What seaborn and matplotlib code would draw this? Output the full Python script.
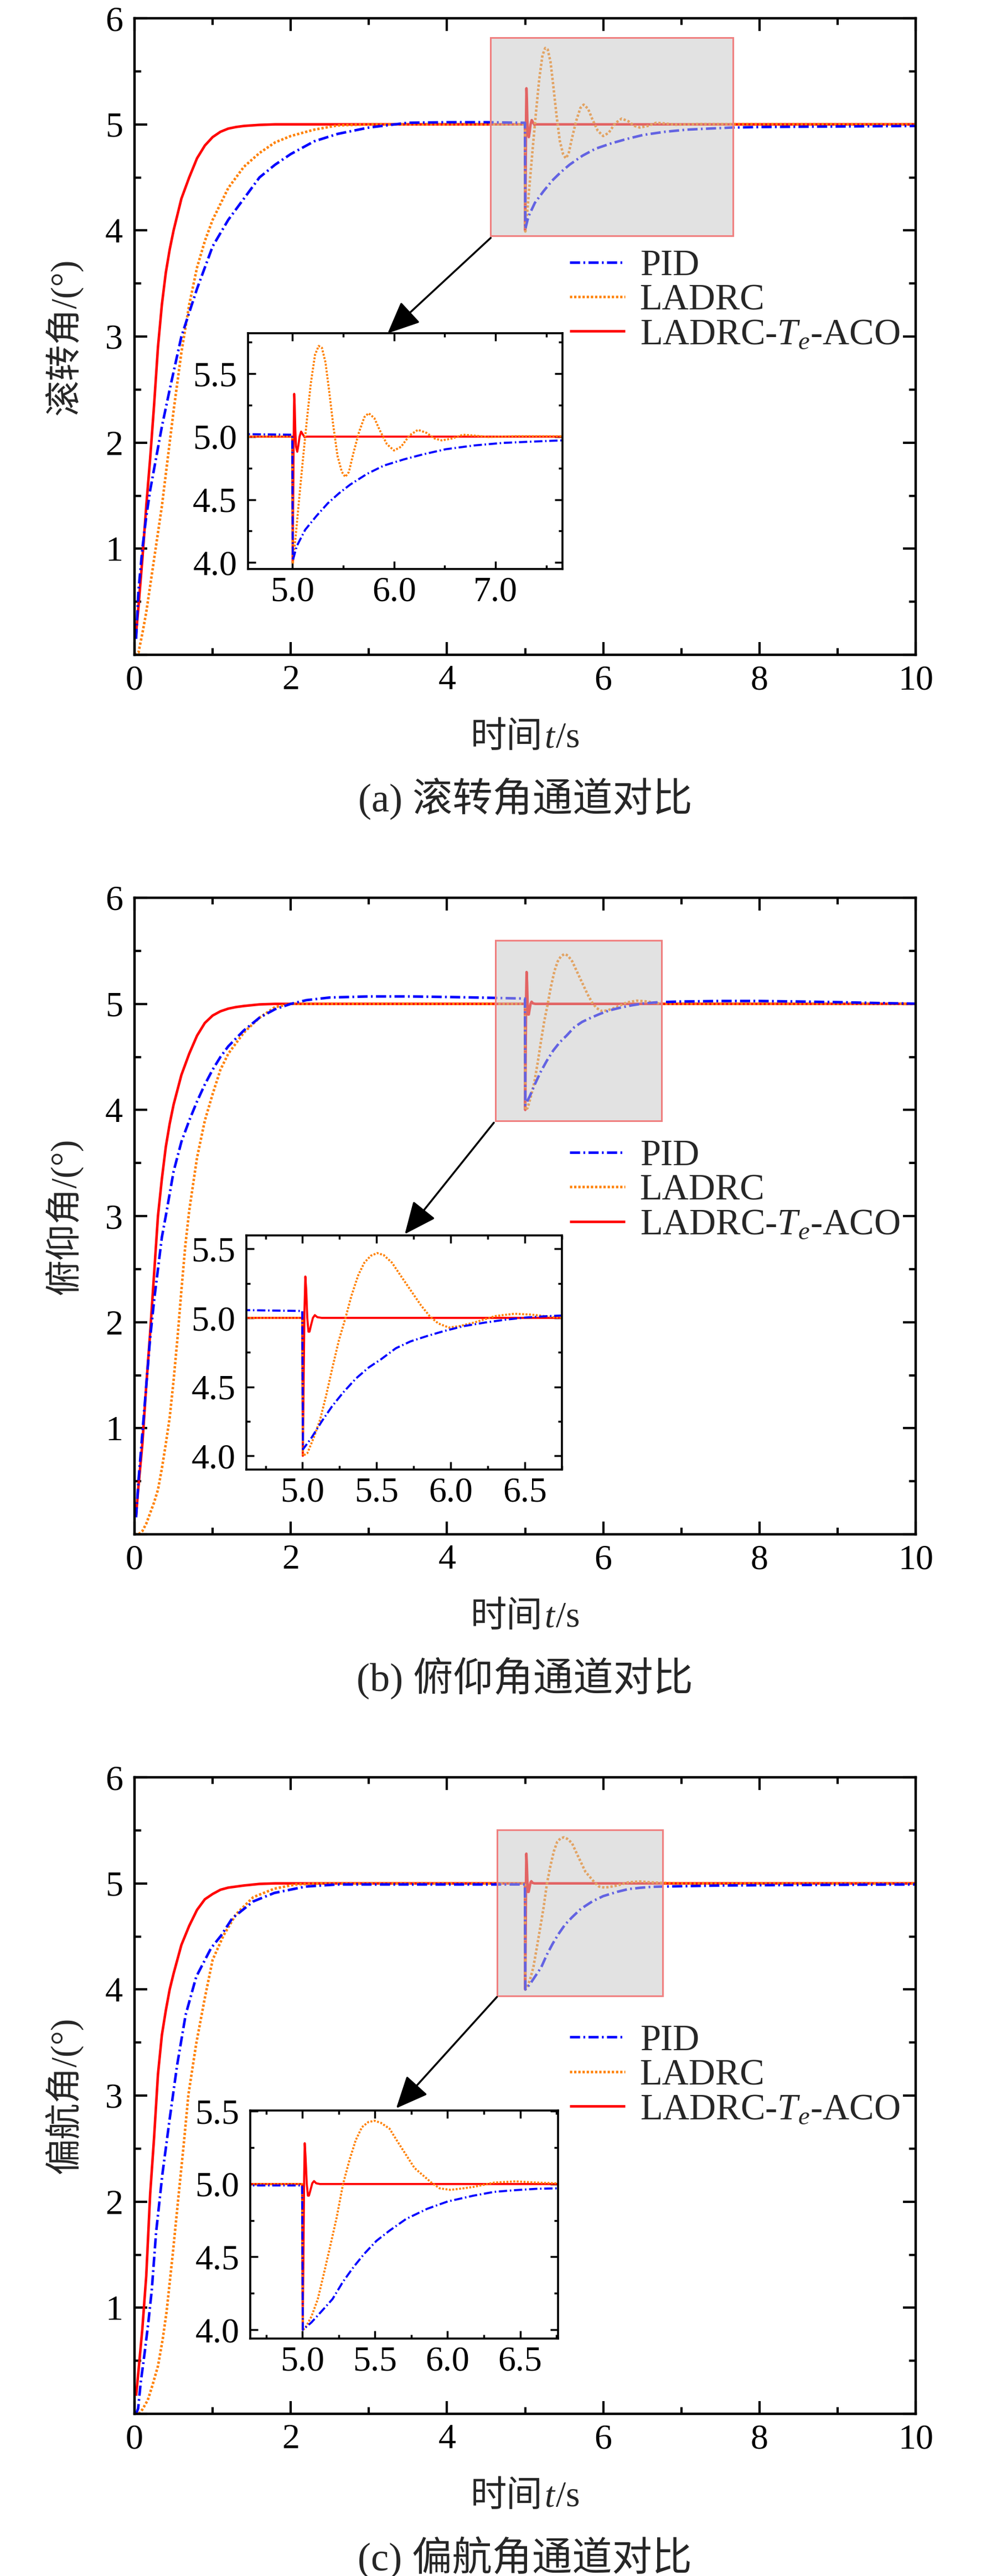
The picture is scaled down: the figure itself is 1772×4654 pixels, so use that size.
import matplotlib
matplotlib.use("Agg")
import matplotlib.pyplot as plt
import seaborn as sns
import pandas as pd
from matplotlib.patches import Rectangle
from matplotlib.ticker import MultipleLocator, FormatStrFormatter
from matplotlib.offsetbox import TextArea, HPacker, AnnotationBbox

sns.set_theme(style="ticks")
plt.rcParams["font.family"] = ["Liberation Serif", "Noto Sans CJK SC"]
plt.rcParams["mathtext.fontset"] = "custom"
plt.rcParams["mathtext.rm"] = "Liberation Serif"
plt.rcParams["mathtext.it"] = "Liberation Serif:italic"
plt.rcParams["axes.unicode_minus"] = False

# ---------------- data ----------------
labels = ["PID", "LADRC", "LADRC-$T_e$-ACO"]
ylabels = ["滚转角/(°)", "俯仰角/(°)", "偏航角/(°)"]
captions = ["(a) 滚转角通道对比", "(b) 俯仰角通道对比", "(c) 偏航角通道对比"]
xlabel_parts = ["时间", "t", "/s"]

# (a) roll
roll_t_pid = [0.02, 0.05, 0.1, 0.15, 0.2, 0.25, 0.3, 0.35, 0.45, 0.6, 0.8, 1.0, 1.2, 1.4, 1.6, 1.8, 2.0, 2.3, 2.6, 3.0,
              3.5, 4.0, 4.5, 4.998, 5.003, 5.042, 5.125, 5.236, 5.347, 5.458, 5.57, 5.736, 5.9, 6.1, 6.29, 6.51, 6.79,
              7.07, 7.35, 7.65, 8.0, 9.0, 10.0]
roll_y_pid = [0.15, 0.6, 1.0, 1.3, 1.55, 1.75, 1.95, 2.15, 2.5, 3.0, 3.45, 3.85, 4.1, 4.3, 4.5, 4.62, 4.72, 4.84, 4.91, 4.97,
              5.015, 5.02, 5.02, 5.015, 4.015, 4.13, 4.26, 4.37, 4.47, 4.55, 4.62, 4.705, 4.77, 4.82, 4.86, 4.90, 4.93,
              4.95, 4.96, 4.97, 4.975, 4.98, 4.985]
roll_t_ladrc = [0.0, 0.05, 0.1, 0.15, 0.2, 0.25, 0.3, 0.35, 0.4, 0.45, 0.5, 0.6, 0.7, 0.8, 0.9, 1.0, 1.2, 1.4, 1.6, 1.8,
                2.0, 2.3, 2.6, 3.0, 4.998, 5.003, 5.028, 5.064, 5.097, 5.139, 5.18, 5.222, 5.258, 5.29, 5.325, 5.36,
                5.403, 5.444, 5.486, 5.52, 5.556, 5.597, 5.653, 5.708, 5.75, 5.806, 5.86, 5.93, 6.0, 6.07, 6.153, 6.236,
                6.32, 6.40, 6.47, 6.57, 6.68, 6.79, 6.93, 7.2, 10.0]
roll_y_ladrc = [0.0, 0.02, 0.2, 0.4, 0.65, 0.9, 1.15, 1.4, 1.7, 2.0, 2.3, 2.85, 3.3, 3.65, 3.9, 4.1, 4.4, 4.6, 4.73, 4.83,
                4.89, 4.95, 4.99, 5.0, 5.0, 3.99, 4.18, 4.49, 4.77, 5.11, 5.42, 5.65, 5.72, 5.705, 5.59, 5.37,
                5.08, 4.845, 4.72, 4.68, 4.72, 4.86, 5.03, 5.155, 5.186, 5.147, 5.05, 4.94, 4.89, 4.92, 5.01, 5.054,
                5.03, 4.985, 4.97, 4.985, 5.015, 5.008, 4.997, 5.003, 5.0]
roll_t_aco = [0.02, 0.05, 0.1, 0.15, 0.2, 0.25, 0.3, 0.35, 0.4, 0.45, 0.5, 0.6, 0.7, 0.8, 0.9, 1.0, 1.1, 1.2, 1.3, 1.4,
              1.6, 1.8, 2.0, 4.998, 5.002, 5.008, 5.013, 5.017, 5.022, 5.028, 5.035, 5.047, 5.058, 5.07, 5.085, 5.1,
              5.12, 5.14, 10.0]
roll_y_aco = [0.2, 0.45, 0.9, 1.4, 1.85, 2.35, 2.9, 3.3, 3.6, 3.82, 4.0, 4.3, 4.5, 4.68, 4.8, 4.88, 4.93, 4.96, 4.975, 4.985,
              4.995, 5.0, 5.0, 5.0, 4.0, 4.6, 5.1, 5.34, 5.25, 5.05, 4.92, 4.88, 4.93, 5.0, 5.04, 5.02,
              4.995, 5.0, 5.0]

# (b) pitch
pitch_t_pid = [0.02, 0.05, 0.1, 0.15, 0.2, 0.25, 0.3, 0.35, 0.4, 0.5, 0.6, 0.7, 0.8, 0.9, 1.0, 1.1, 1.2, 1.4, 1.6, 1.8,
               2.0, 2.2, 2.5, 3.0, 3.5, 4.0, 4.5, 4.998, 5.003, 5.06, 5.13, 5.2, 5.275, 5.36, 5.446, 5.53, 5.63, 5.73,
               5.845, 5.96, 6.087, 6.23, 6.37, 6.51, 6.657, 6.75, 7.0, 7.5, 8.0, 8.5, 9.0, 9.5, 10.0]
pitch_y_pid = [0.16, 0.5, 0.95, 1.4, 1.85, 2.2, 2.5, 2.8, 3.0, 3.42, 3.7, 3.9, 4.08, 4.24, 4.38, 4.5, 4.6, 4.75, 4.87, 4.95,
               5.0, 5.035, 5.06, 5.07, 5.07, 5.065, 5.058, 5.05, 4.047, 4.13, 4.25, 4.36, 4.46, 4.56, 4.64, 4.70, 4.78,
               4.83, 4.87, 4.906, 4.94, 4.966, 4.987, 5.003, 5.013, 5.017, 5.022, 5.027, 5.027, 5.022, 5.016, 5.008,
               5.002]
pitch_t_ladrc = [0.0, 0.05, 0.1, 0.15, 0.2, 0.25, 0.3, 0.35, 0.4, 0.45, 0.5, 0.55, 0.6, 0.65, 0.7, 0.8, 0.9, 1.0, 1.1,
                 1.2, 1.4, 1.6, 1.8, 2.0, 4.998, 5.003, 5.033, 5.075, 5.118, 5.16, 5.204, 5.246, 5.29, 5.33, 5.376,
                 5.417, 5.46, 5.504, 5.547, 5.604, 5.66, 5.73, 5.80, 5.86, 5.916, 5.987, 6.058, 6.158, 6.30, 6.43,
                 6.54, 6.657, 6.75, 7.0, 10.0]
pitch_y_ladrc = [0.0, 0.0, 0.03, 0.1, 0.2, 0.3, 0.42, 0.62, 0.85, 1.1, 1.45, 1.85, 2.3, 2.72, 3.05, 3.55, 3.9, 4.15, 4.38,
                 4.53, 4.73, 4.87, 4.97, 5.0, 5.0, 4.0, 4.02, 4.13, 4.26, 4.44, 4.65, 4.84, 5.0, 5.16, 5.31,
                 5.40, 5.45, 5.47, 5.456, 5.40, 5.31, 5.20, 5.09, 5.01, 4.96, 4.93, 4.94, 4.966, 5.013, 5.03,
                 5.024, 5.01, 5.0, 5.0, 5.0]
pitch_t_aco = [0.02, 0.05, 0.1, 0.15, 0.2, 0.25, 0.3, 0.35, 0.4, 0.45, 0.5, 0.6, 0.7, 0.8, 0.9, 1.0, 1.1, 1.2, 1.3, 1.4,
               1.6, 1.8, 4.998, 5.002, 5.008, 5.013, 5.019, 5.025, 5.032, 5.04, 5.047, 5.058, 5.07, 5.083, 5.1, 5.13,
               10.0]
pitch_y_aco = [0.18, 0.45, 0.85, 1.4, 1.9, 2.45, 3.0, 3.35, 3.65, 3.87, 4.05, 4.33, 4.53, 4.7, 4.82, 4.89, 4.93, 4.955,
               4.97, 4.98, 4.995, 5.0, 5.0, 4.0, 4.6, 5.05, 5.30, 5.2, 5.0, 4.9, 4.90, 4.95, 5.0, 5.02, 5.005, 5.0,
               5.0]

# (c) yaw
yaw_t_pid = [0.02, 0.046, 0.08, 0.127, 0.175, 0.22, 0.276, 0.357, 0.45, 0.546, 0.654, 0.79, 0.98, 1.11, 1.25, 1.52,
             1.79, 2.19, 2.6, 3.0, 4.998, 5.003, 5.062, 5.135, 5.207, 5.28, 5.352, 5.425, 5.51, 5.6, 5.714, 5.86, 6.0,
             6.178, 6.32, 6.468, 6.61, 6.74, 7.5, 8.5, 10.0]
yaw_y_pid = [0.0, 0.05, 0.3, 0.56, 0.85, 1.16, 1.71, 2.26, 2.78, 3.29, 3.76, 4.12, 4.39, 4.51, 4.67, 4.83, 4.91, 4.97,
             4.99, 4.99, 4.99, 4.0, 4.05, 4.13, 4.21, 4.33, 4.43, 4.52, 4.61, 4.68, 4.76, 4.83, 4.88, 4.92, 4.946,
             4.958, 4.967, 4.97, 4.98, 4.985, 4.99]
yaw_t_ladrc = [0.0, 0.055, 0.1, 0.17, 0.23, 0.30, 0.36, 0.41, 0.49, 0.56, 0.63, 0.69, 0.79, 0.90, 1.0, 1.14, 1.3, 1.52,
               1.79, 2.06, 2.4, 4.998, 5.003, 5.019, 5.062, 5.106, 5.149, 5.193, 5.236, 5.28, 5.323, 5.367, 5.41,
               5.454, 5.497, 5.54, 5.60, 5.656, 5.714, 5.772, 5.83, 5.888, 5.946, 6.02, 6.106, 6.178, 6.323, 6.468,
               6.61, 6.74, 7.0, 10.0]
yaw_y_ladrc = [0.0, 0.0, 0.04, 0.13, 0.27, 0.45, 0.7, 0.96, 1.51, 2.03, 2.54, 3.01, 3.49, 3.92, 4.28, 4.51, 4.71, 4.87,
               4.95, 4.99, 5.0, 5.0, 4.0, 4.01, 4.09, 4.21, 4.39, 4.58, 4.77, 5.0, 5.16, 5.30, 5.39,
               5.425, 5.434, 5.42, 5.38, 5.29, 5.20, 5.11, 5.06, 5.01, 4.97, 4.96, 4.97, 4.98, 5.01, 5.018,
               5.01, 5.005, 5.0, 5.0]
yaw_t_aco = [0.02, 0.05, 0.1, 0.15, 0.2, 0.25, 0.3, 0.35, 0.4, 0.45, 0.5, 0.6, 0.7, 0.8, 0.9, 1.0, 1.1, 1.2, 1.3, 1.4,
             1.6, 1.8, 4.998, 5.002, 5.008, 5.012, 5.016, 5.022, 5.03, 5.038, 5.045, 5.056, 5.068, 5.08, 5.095, 5.12,
             10.0]
yaw_y_aco = [0.17, 0.4, 0.8, 1.3, 2.07, 2.6, 3.2, 3.57, 3.8, 4.0, 4.15, 4.42, 4.6, 4.75, 4.85, 4.9, 4.94, 4.96, 4.97, 4.98,
             4.995, 5.0, 5.0, 4.0, 4.6, 5.05, 5.28, 5.18, 5.0, 4.92, 4.92, 4.96, 5.005, 5.02, 5.005, 5.0, 5.0]

# zoom windows / inset placement (data coords of the main axes)
inset_bounds = [(1.45, 0.81, 4.03, 2.22), (1.43, 0.61, 4.04, 2.21), (1.48, 0.71, 3.94, 2.15)]
inset_xlim = [(4.56, 7.66), (4.62, 6.75), (4.64, 6.76)]
inset_ylim = [(3.95, 5.82), (3.90, 5.60), (3.94, 5.505)]
inset_xstep = [(1.0, 0.5), (0.5, 0.25), (0.5, 0.25)]
arrow_from = [(4.56, 3.93), (4.60, 3.88), (4.64, 3.93)]
arrow_to = [(3.24, 3.03), (3.46, 2.83), (3.35, 2.88)]
legend_y = [3.34, 3.24, 3.19]

panels = [
    [(roll_t_pid, roll_y_pid), (roll_t_ladrc, roll_y_ladrc), (roll_t_aco, roll_y_aco)],
    [(pitch_t_pid, pitch_y_pid), (pitch_t_ladrc, pitch_y_ladrc), (pitch_t_aco, pitch_y_aco)],
    [(yaw_t_pid, yaw_y_pid), (yaw_t_ladrc, yaw_y_ladrc), (yaw_t_aco, yaw_y_aco)],
]

colors = ["#0000FF", "#FF8000", "#FF0000"]
styles = [(0, (4.0, 1.3, 0.7, 1.3)), (0, (0.9, 0.75)), "-"]
zorders = [2.3, 2.2, 2.1]

# ---------------- figure ----------------
W_PX, H_PX = 1772, 4654
fig = plt.figure(figsize=(W_PX / 100, H_PX / 100), dpi=100)
fig.patch.set_facecolor("white")

ax_left, ax_right = 243, 1654
ax_tops = [33, 1622, 3211]
ax_h = 1150
LABEL_FS = 47


def plot_series(ax, t, y, i, lw):
    df = pd.DataFrame({"t": t, "y": y})
    sns.lineplot(data=df, x="t", y="y", ax=ax, color=colors[i], lw=lw,
                 estimator=None, sort=False, zorder=zorders[i])
    line = ax.lines[-1]
    line.set_linestyle(styles[i])
    line.set_solid_capstyle("butt")
    line.set_dash_capstyle("butt")
    return line


for k in range(3):
    top = ax_tops[k]
    ax = fig.add_axes([ax_left / W_PX, 1 - (top + ax_h) / H_PX,
                       (ax_right - ax_left) / W_PX, ax_h / H_PX])
    ax.set_facecolor("white")
    handles = []
    for i, (t, y) in enumerate(panels[k]):
        handles.append(plot_series(ax, t, y, i, 3.3))
    ax.set_xlim(0, 10)
    ax.set_ylim(0, 6)
    ax.xaxis.set_major_locator(MultipleLocator(2))
    ax.xaxis.set_minor_locator(MultipleLocator(1))
    ax.set_yticks(range(7))
    ax.set_yticklabels([""] + [str(v) for v in range(1, 7)])
    ax.yaxis.set_minor_locator(MultipleLocator(0.5))
    ax.tick_params(which="both", direction="in", top=True, right=True, width=3, colors="black",
                   labelsize=46)
    ax.tick_params(which="major", length=16.5)
    ax.tick_params(which="minor", length=8.5)
    ax.tick_params(axis="x", pad=13)
    ax.tick_params(axis="y", pad=15)
    for sp in ax.spines.values():
        sp.set_linewidth(3.2)
        sp.set_color("black")
        sp.set_visible(True)

    # x label: CJK + italic t + /s
    ax.set_xlabel("")
    parts = [TextArea(xlabel_parts[0], textprops=dict(fontfamily=["Noto Sans CJK SC"], fontsize=LABEL_FS)),
             TextArea(xlabel_parts[1], textprops=dict(fontfamily=["Liberation Serif"], fontstyle="italic",
                                                      fontsize=LABEL_FS)),
             TextArea(xlabel_parts[2], textprops=dict(fontfamily=["Liberation Serif"], fontsize=LABEL_FS))]
    pack = HPacker(children=parts, align="baseline", pad=0, sep=2)
    ab = AnnotationBbox(pack, (0.5, -149 / ax_h), xycoords="axes fraction", frameon=False,
                        box_alignment=(0.5, 0.5), annotation_clip=False)
    ax.add_artist(ab)

    ax.set_ylabel(ylabels[k], fontsize=LABEL_FS)
    ax.yaxis.set_label_coords(-128 / (ax_right - ax_left), 0.5)
    ax.yaxis.label.set_va("center")

    # shaded zoom window
    x0, x1 = inset_xlim[k]
    y0, y1 = inset_ylim[k]
    ax.add_patch(Rectangle((x0, y0), x1 - x0, y1 - y0, facecolor=(0.78, 0.78, 0.78, 0.5),
                           edgecolor="#F08080", linewidth=2.2, zorder=4))

    # arrow
    ax.annotate("", xy=arrow_to[k], xytext=arrow_from[k], xycoords="data",
                arrowprops=dict(arrowstyle="-|>,head_length=0.45,head_width=0.2", color="black",
                                lw=2.5, mutation_scale=80, shrinkA=0, shrinkB=0), zorder=6)

    # legend
    ax.legend(handles=handles, labels=labels, loc="center left", bbox_to_anchor=(5.57, legend_y[k]),
              bbox_transform=ax.transData, frameon=False, fontsize=48, handlelength=1.5,
              handletextpad=0.4, labelspacing=0.02, borderpad=0, borderaxespad=0)

    # inset
    ins = ax.inset_axes(inset_bounds[k], transform=ax.transData)
    ins.set_facecolor("white")
    for i, (t, y) in enumerate(panels[k]):
        plot_series(ins, t, y, i, 2.7)
    ins.set_xlim(*inset_xlim[k])
    ins.set_ylim(*inset_ylim[k])
    ins.set_xlabel("")
    ins.set_ylabel("")
    mj, mn = inset_xstep[k]
    ins.xaxis.set_major_locator(MultipleLocator(mj))
    ins.xaxis.set_minor_locator(MultipleLocator(mn))
    ins.yaxis.set_major_locator(MultipleLocator(0.5))
    ins.yaxis.set_minor_locator(MultipleLocator(0.25))
    ins.xaxis.set_major_formatter(FormatStrFormatter("%.1f"))
    ins.yaxis.set_major_formatter(FormatStrFormatter("%.1f"))
    ins.tick_params(which="both", direction="in", top=True, right=True, width=2.5, colors="black",
                    labelsize=46)
    ins.tick_params(which="major", length=10)
    ins.tick_params(which="minor", length=5)
    ins.tick_params(axis="x", pad=10)
    ins.tick_params(axis="y", pad=14)
    for sp in ins.spines.values():
        sp.set_linewidth(2.6)
        sp.set_color("black")
        sp.set_visible(True)

    # caption
    fig.text((ax_left + ax_right) / 2 / W_PX, 1 - (top + ax_h + 260) / H_PX, captions[k],
             ha="center", va="center", fontsize=52)

fig.savefig("out.png", dpi=100, facecolor="white")
